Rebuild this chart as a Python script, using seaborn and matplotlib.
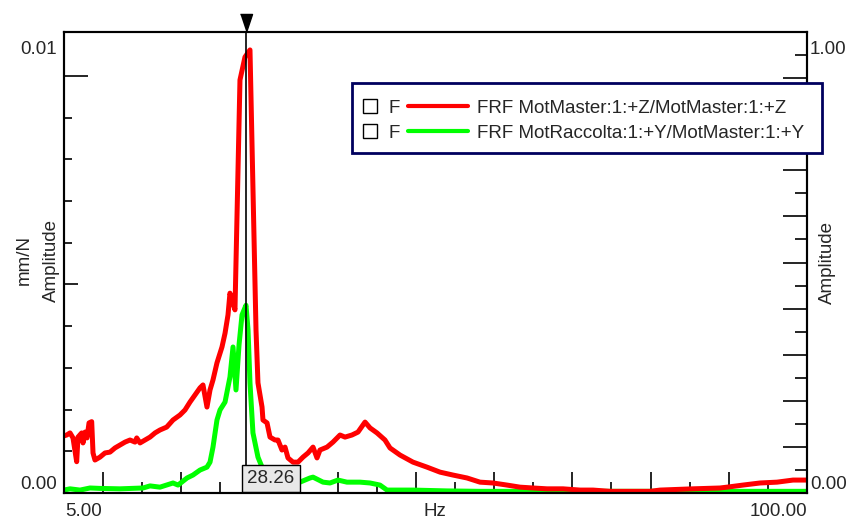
import numpy as np
import pandas as pd
import matplotlib
matplotlib.use("Agg")
import matplotlib.pyplot as plt
import matplotlib.transforms as mtransforms
from matplotlib.lines import Line2D
from matplotlib.patches import Rectangle
import seaborn as sns

# FRF MotMaster:1:+Z/MotMaster:1:+Z  (mm/N)
red_hz = [5.00, 5.35, 5.77, 6.15, 6.62, 6.79, 7.26, 7.43, 7.69, 7.94, 8.20, 8.54, 8.71, 8.96,
          9.60, 10.24, 10.88, 11.52, 12.16, 12.80, 13.44, 14.08, 14.30, 14.72, 15.36, 16.00,
          16.64, 17.27, 18.13, 18.94, 19.83, 20.47, 21.11, 21.75, 22.39, 22.77, 23.28, 23.67,
          24.05, 24.56, 25.20, 25.59, 25.97, 26.22, 26.48, 26.86, 27.50, 28.14, 28.78, 29.55,
          29.80, 30.32, 30.44, 30.96, 31.34, 31.98, 32.36, 32.87, 33.26, 33.64, 34.28, 34.92,
          35.56, 36.20, 36.84, 37.35, 37.73, 38.63, 39.39, 40.29, 40.93, 41.82, 42.59, 43.49,
          44.13, 45.02, 46.04, 46.68, 47.96, 49.62, 51.41, 53.08, 54.74, 56.53, 58.19, 59.85,
          61.64, 63.30, 64.97, 66.76, 68.80, 70.98, 72.64, 74.81, 79.93, 81.21, 85.42, 88.88,
          89.77, 91.82, 93.99, 96.17, 98.21, 100.0]
red_amp = [0.00137, 0.00139, 0.00144, 0.00132, 0.00075, 0.00134, 0.00144, 0.00120, 0.00146,
           0.00132, 0.00168, 0.00171, 0.00096, 0.00079, 0.00086, 0.00096, 0.00098, 0.00108,
           0.00115, 0.00122, 0.00127, 0.00122, 0.00132, 0.00120, 0.00127, 0.00134, 0.00144,
           0.00151, 0.00158, 0.00175, 0.00187, 0.00199, 0.00218, 0.00235, 0.00252, 0.00259,
           0.00206, 0.00247, 0.00271, 0.00312, 0.00350, 0.00383, 0.00427, 0.00479, 0.00462,
           0.00439, 0.00990, 0.01045, 0.01062, 0.00391, 0.00264, 0.00206, 0.00175, 0.00168,
           0.00134, 0.00127, 0.00127, 0.00103, 0.00110, 0.00084, 0.00074, 0.00074, 0.00086,
           0.00096, 0.00110, 0.00084, 0.00103, 0.00110, 0.00122, 0.00139, 0.00134, 0.00139,
           0.00146, 0.00170, 0.00156, 0.00144, 0.00127, 0.00108, 0.00091, 0.00074, 0.00062,
           0.00050, 0.00043, 0.00036, 0.00026, 0.00024, 0.00019, 0.00014, 0.00012, 0.00010,
           0.00010, 0.00007, 0.00007, 0.00004, 0.00004, 0.00007, 0.00010, 0.00012, 0.00014,
           0.00019, 0.00024, 0.00026, 0.00031, 0.00031]

# FRF MotRaccolta:1:+Y/MotMaster:1:+Y  (mm/N)
green_hz = [5.00, 5.77, 7.05, 8.32, 9.60, 12.16, 15.10, 16.00, 17.27, 18.94, 19.58, 20.73,
            21.49, 22.39, 23.28, 23.67, 24.05, 24.56, 24.95, 25.59, 26.22, 26.61, 26.99, 27.38,
            27.76, 28.27, 28.53, 28.78, 29.16, 29.80, 30.32, 30.70, 31.34, 33.00, 35.17, 36.45,
            36.84, 38.12, 39.01, 40.03, 41.18, 42.85, 44.13, 45.40, 46.30, 49.62, 53.97, 58.19,
            73.53, 86.32, 100.0]
green_amp = [0.00007, 0.00010, 0.00007, 0.00012, 0.00011, 0.00010, 0.00012, 0.00017, 0.00014,
             0.00024, 0.00019, 0.00036, 0.00043, 0.00055, 0.00062, 0.00074, 0.00110, 0.00175,
             0.00199, 0.00218, 0.00278, 0.00350, 0.00247, 0.00355, 0.00427, 0.00450, 0.00391,
             0.00264, 0.00144, 0.00086, 0.00062, 0.00036, 0.00026, 0.00031, 0.00026, 0.00036,
             0.00038, 0.00026, 0.00024, 0.00031, 0.00026, 0.00026, 0.00024, 0.00019, 0.00007,
             0.00007, 0.00005, 0.00004, 0.00004, 0.00004, 0.00004]

series_labels = ["FRF MotMaster:1:+Z/MotMaster:1:+Z", "FRF MotRaccolta:1:+Y/MotMaster:1:+Y"]
series_colors = ["#ff0000", "#00ff00"]
cursor_hz = 28.26

red_df = pd.DataFrame({"Hz": red_hz, "amp": red_amp})
green_df = pd.DataFrame({"Hz": green_hz, "amp": green_amp})

sns.set_theme(style="white")
plt.rcParams["font.family"] = ["Liberation Sans", "DejaVu Sans"]
FS = 13.5

W, H = 850, 524
fig = plt.figure(figsize=(W / 100, H / 100), dpi=100)
ax = fig.add_axes([64 / W, 1 - 493 / H, (807 - 64) / W, (493 - 32) / H])

sns.lineplot(data=green_df, x="Hz", y="amp", color=series_colors[1], linewidth=3.6, ax=ax)
sns.lineplot(data=red_df, x="Hz", y="amp", color=series_colors[0], linewidth=3.6, ax=ax)

ax.set_xlim(5, 100)
ax.set_ylim(0, 0.01105)
ax.set_xlabel("")
for s in ax.spines.values():
    s.set_color("black")
    s.set_linewidth(1.5)

ax.set_xticks(np.arange(10, 100, 10))
ax.set_xticks(np.arange(15, 100, 10), minor=True)
ax.set_yticks([0.005, 0.01])
ax.set_yticks(np.arange(0.001, 0.0105, 0.001), minor=True)
ax.tick_params(axis="x", which="major", direction="in", length=15, width=1.2, color="black",
               bottom=True, top=False, labelbottom=False)
ax.tick_params(axis="x", which="minor", direction="in", length=8, width=1.2, color="black",
               bottom=True, top=False)
ax.tick_params(axis="y", which="major", direction="in", length=10, width=1.2, color="black",
               left=True, right=False, labelleft=False)
ax.tick_params(axis="y", which="minor", direction="in", length=5.8, width=1.2, color="black",
               left=True, right=False)
ax.yaxis.get_major_ticks()[1].tick1line.set_markersize(17)

ax2 = ax.twinx()
ax2.set_ylim(0, 1)
ax2.set_yticks(np.arange(0.1, 1.0, 0.1))
ax2.set_yticks(np.arange(0.05, 1.0, 0.1), minor=True)
ax2.tick_params(axis="y", which="major", direction="in", length=17, width=1.2, color="black",
                right=True, left=False, labelright=False)
ax2.tick_params(axis="y", which="minor", direction="in", length=8.6, width=1.2, color="black",
                right=True, left=False)
for s in ax2.spines.values():
    s.set_color("black")
    s.set_linewidth(1.5)

# axis labels
ax.set_ylabel("mm/N\nAmplitude", fontsize=FS, linespacing=1.75)
ax.yaxis.set_label_coords(-0.006, 0.505)
ax2.set_ylabel("Amplitude", fontsize=FS)
ax2.yaxis.set_label_coords(1.016, 0.5)

# end-of-axis value labels
ax.text(-0.0094, 0.961, "0.01", transform=ax.transAxes, ha="right", va="center", fontsize=FS)
ax.text(-0.0094, 0.0175, "0.00", transform=ax.transAxes, ha="right", va="center", fontsize=FS)
ax.text(1.004, 0.961, "1.00", transform=ax.transAxes, ha="left", va="center", fontsize=FS)
ax.text(1.004, 0.0175, "0.00", transform=ax.transAxes, ha="left", va="center", fontsize=FS)
ax.text(0.001, -0.041, "5.00", transform=ax.transAxes, ha="left", va="center", fontsize=FS)
ax.text(1.0, -0.041, "100.00", transform=ax.transAxes, ha="right", va="center", fontsize=FS)
ax.text((435 - 64) / 743, -0.041, "Hz", transform=ax.transAxes, ha="center", va="center",
        fontsize=FS)

# cursor
ax.axvline(cursor_hz, color="black", lw=1.2, zorder=5)
blend = mtransforms.blended_transform_factory(ax.transData, ax.transAxes)
tri = [(-6, 9), (6, 9), (0, -9)]
ax.plot([cursor_hz], [1.0], marker=tri, ms=13, color="black", linestyle="none",
        transform=blend + mtransforms.ScaledTranslation(0, 0.09, fig.dpi_scale_trans),
        clip_on=False, zorder=6)
ax.annotate(f"{cursor_hz:.2f}", xy=(cursor_hz, 0), xycoords=blend, xytext=(1, 4.5),
            textcoords="offset points", ha="left", va="bottom", fontsize=FS, zorder=7,
            bbox=dict(boxstyle="square,pad=0.27", facecolor="#e8e8e8", edgecolor="black", lw=1))

# legend box
def fpt(x, y):
    return x / W, 1 - y / H

lx0, ly0 = fpt(352, 153)
fig.add_artist(Rectangle((lx0, ly0), (822 - 352) / W, (153 - 83) / H, transform=fig.transFigure,
                         facecolor="white", edgecolor="#00005e", lw=2, zorder=10))
for row_y, lab, col in zip([106, 131], series_labels, series_colors):
    fig.add_artist(Line2D([fpt(369.7, 0)[0]], [fpt(0, row_y)[1]], marker="s", ms=9.5,
                          mfc="white", mec="black", mew=1, linestyle="none",
                          transform=fig.transFigure, zorder=11))
    fig.text(*fpt(389, row_y + 2.5), "F", ha="left", va="center", fontsize=FS, zorder=11)
    fig.add_artist(Line2D([408 / W, 468 / W], [fpt(0, row_y)[1]] * 2, color=col, lw=3,
                          transform=fig.transFigure, zorder=11))
    fig.text(*fpt(477, row_y + 2.5), lab, ha="left", va="center", fontsize=FS, zorder=11)

fig.savefig("out.png", dpi=100)
